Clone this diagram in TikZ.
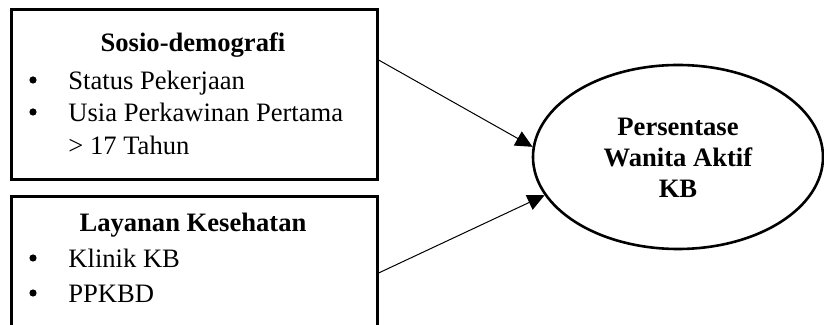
\documentclass[tikz,border=0pt]{standalone}
\usepackage{fontspec}
\setmainfont{Liberation Serif}
\usetikzlibrary{shapes.geometric,arrows.meta,calc}
\begin{document}
\begin{tikzpicture}[x=0.5pt,y=-0.5pt,
  every node/.style={font=\fontsize{13.3pt}{16pt}\selectfont},
  boxframe/.style={draw,line width=1.3pt,rectangle,anchor=north west,inner sep=0pt},
  heading/.style={anchor=base,font=\fontsize{13.3pt}{16pt}\selectfont\bfseries},
  item/.style={anchor=base west,inner sep=0pt},
  dot/.style={circle,fill,inner sep=0pt,minimum size=3.6pt},
  target/.style={draw,ellipse,line width=1.3pt,inner sep=0pt,
    minimum width=145pt,minimum height=92pt},
  link/.style={line width=0.5pt,-{Triangle[length=8.5pt,width=8pt]}}]
\useasboundingbox (0,0) rectangle (824,325);
% input boxes
\node[boxframe,minimum width=183pt,minimum height=85pt] (b1) at (10,8) {};
\node[boxframe,minimum width=183pt,minimum height=80pt] (b2) at (10,195) {};
% socio-demographic factors
\node[heading] (h1) at (193,52) {Sosio-demografi};
\node[dot] (d1) at (33,80) {};
\node[item] (i1) at (68,90) {Status Pekerjaan};
\node[dot] (d2) at (33,112) {};
\node[item] (i2) at (68,122) {Usia Perkawinan Pertama};
\node[item] (i3) at (68,155) {> 17 Tahun};
% health services
\node[heading] (h2) at (193,232) {Layanan Kesehatan};
\node[dot] (d3) at (33,258) {};
\node[item] (i4) at (68,268) {Klinik KB};
\node[dot] (d4) at (33,293) {};
\node[item] (i5) at (68,303) {PPKBD};
% outcome
\node[target] (t) at (678,157) {};
\node[align=center,font=\fontsize{13.3pt}{15.5pt}\selectfont\bfseries,anchor=base,inner sep=0pt] (tl) at (678,198) {Persentase\\Wanita Aktif\\KB};
% connectors
\coordinate (s1) at ($(b1.north east)+(0,52)$);
\coordinate (s2) at ($(b2.north east)+(0,78)$);
\draw[link] (s1) -- (t.176);
\draw[link] (s2) -- (t.196);
\end{tikzpicture}
\end{document}
